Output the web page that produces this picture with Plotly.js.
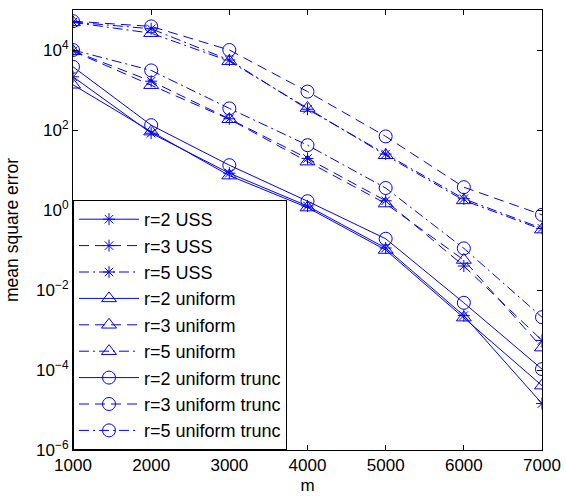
<!DOCTYPE html>
<html>
<head>
<meta charset="utf-8">
<script src="https://cdn.plot.ly/plotly-3.0.1.min.js"></script>
<style>html,body{margin:0;padding:0;background:#fff;}#chart{width:566px;height:496px;}</style>
</head>
<body>
<div id="chart"></div>
<script>
const m = [1000, 2000, 3000, 4000, 5000, 6000, 7000];

const r2USS = [2140, 83.2, 8.32, 1.26, 0.112, 0.00229, 0.0000145];
const r3USS = [9550, 1660, 191, 19.5, 1.70, 0.0398, 0.00055];
const r5USS = [50100, 33900, 5620, 331, 25.1, 1.91, 0.347];
const r2uniform = [1350, 91.2, 7.24, 1.15, 0.100, 0.00204, 0.0000407];
const r3uniform = [9330, 1320, 186, 16.2, 1.45, 0.0562, 0.000363];
const r5uniform = [49000, 26300, 5250, 355, 23.4, 1.74, 0.324];
const r2trunc = [3800, 132, 13.2, 1.66, 0.191, 0.00479, 0.000105];
const r3trunc = [52500, 38900, 10000, 912, 69.2, 3.72, 0.759];
const r5trunc = [10000, 3090, 347, 41.7, 3.55, 0.110, 0.00209];

const names = ["r=2 USS", "r=3 USS", "r=5 USS", "r=2 uniform", "r=3 uniform", "r=5 uniform",
               "r=2 uniform trunc", "r=3 uniform trunc", "r=5 uniform trunc"];
const series = [r2USS, r3USS, r5USS, r2uniform, r3uniform, r5uniform, r2trunc, r3trunc, r5trunc];
const yTickVals = [1e-6, 1e-4, 1e-2, 1e0, 1e2, 1e4];
const yTickText = ["10<sup>\u22126</sup>", "10<sup>\u22124</sup>", "10<sup>\u22122</sup>", "10<sup>0</sup>", "10<sup>2</sup>", "10<sup>4</sup>"];

const dashes = ["solid", "10px,6px", "10px,4px,2px,4px"];
const symbols = ["asterisk-open", "triangle-up-open", "circle-open"];

const traces = series.map((ys, i) => ({
  x: m, y: ys, name: names[i], type: "scatter", mode: "lines+markers",
  line: {color: "#0000ff", width: 1, dash: dashes[i % 3]},
  marker: {symbol: symbols[Math.floor(i / 3)], size: i < 3 ? 10 : 13, color: "#0000ff", line: {color: "#0000ff", width: 1}}
}));

const family = "Liberation Sans, Arial, sans-serif";
const font = {family: family, size: 17, color: "#000"};

const layout = {
  width: 566, height: 496,
  margin: {l: 73, r: 24, t: 10, b: 46},
  paper_bgcolor: "#fff", plot_bgcolor: "#fff",
  font: font,
  showlegend: true,
  legend: {x: 0, y: 0, xanchor: "left", yanchor: "bottom", bgcolor: "#fff", bordercolor: "#000", borderwidth: 1,
           font: {family: family, size: 18, color: "#000"}, itemwidth: 60},
  xaxis: {
    range: [1000, 7000], tickvals: m, ticks: "inside", ticklen: 5, tickcolor: "#000",
    showline: true, linecolor: "#000", linewidth: 1, mirror: "ticks", showgrid: false, zeroline: false,
    tickfont: font, title: {text: "m", font: font, standoff: 4}
  },
  yaxis: {
    type: "log", range: [-6, 5], tickvals: yTickVals, ticktext: yTickText, ticks: "inside", ticklen: 5, tickcolor: "#000",
    showline: true, linecolor: "#000", linewidth: 1, mirror: "ticks", showgrid: false, zeroline: false,
    tickfont: font, title: {text: "mean square error", font: {family: family, size: 17.5, color: "#000"}, standoff: 12}
  }
};

Plotly.newPlot("chart", traces, layout, {staticPlot: true});
</script>
</body>
</html>
